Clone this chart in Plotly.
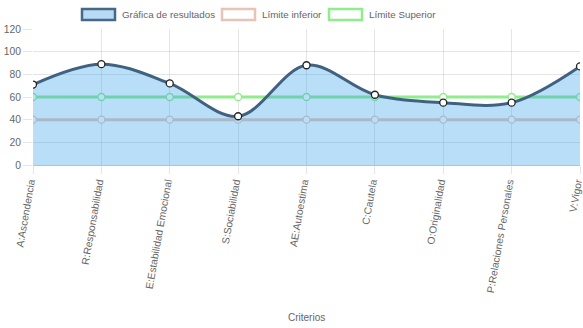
import plotly.graph_objects as go

# Category labels and series values
criterios = [
    "A:Ascendencia", "R:Responsabilidad", "E:Estabilidad Emocional",
    "S:Sociabilidad", "AE:Autoestima", "C:Cautela", "O:Originalidad",
    "P:Relaciones Personales", "V:Vigor",
]
resultados = [71, 89, 72, 43, 88, 62, 55, 55, 87]
limite_inferior = [40, 40, 40, 40, 40, 40, 40, 40, 40]
limite_superior = [60, 60, 60, 60, 60, 60, 60, 60, 60]

W, H = 583, 328
ML, MR, MT, MB = 33, 3, 29, 163
PW, PH = W - ML - MR, H - MT - MB

FONT = "Liberation Sans, Arial, Helvetica, sans-serif"
TXT = "#666666"

C_RES_LINE = "rgb(64,98,128)"
C_RES_FILL = "rgba(54,162,235,0.35)"
C_INF = "rgb(232,196,184)"
C_SUP = "rgb(144,236,140)"


def px_x(p):
    return (p - ML) / PW


def px_y(p):
    return (H - MB - p) / PH


fig = go.Figure()

# Limit lines on the base axes
fig.add_trace(go.Scatter(
    x=criterios, y=limite_inferior, mode="lines+markers",
    line=dict(color=C_INF, width=3),
    marker=dict(size=7, color="white", line=dict(color=C_INF, width=1.3)),
    name="Límite inferior", showlegend=False,
))
fig.add_trace(go.Scatter(
    x=criterios, y=limite_superior, mode="lines+markers",
    line=dict(color=C_SUP, width=3),
    marker=dict(size=7, color="white", line=dict(color=C_SUP, width=1.3)),
    name="Límite Superior", showlegend=False,
))
# Results on an overlaying y axis so the translucent fill covers the limits
fig.add_trace(go.Scatter(
    x=criterios, y=resultados, mode="lines+markers", yaxis="y2",
    line=dict(color=C_RES_LINE, width=3, shape="spline", smoothing=1.0),
    fill="tozeroy", fillcolor=C_RES_FILL,
    marker=dict(size=7, color="white", line=dict(color="#222222", width=1.3)),
    name="Gráfica de resultados", showlegend=False,
))

# Legend drawn as boxed swatches with text labels
legend_items = [
    ("Gráfica de resultados", 81, "rgb(70,105,135)", "rgb(185,218,245)"),
    ("Límite inferior", 221, C_INF, "white"),
    ("Límite Superior", 328, C_SUP, "white"),
]
shapes, annotations = [], []
for label, x0, border, fillc in legend_items:
    shapes.append(dict(
        type="rect", xref="paper", yref="paper",
        x0=px_x(x0 + 1), x1=px_x(x0 + 34), y0=px_y(20), y1=px_y(9),
        line=dict(color=border, width=2.5), fillcolor=fillc, layer="above",
    ))
    annotations.append(dict(
        text=label, xref="paper", yref="paper", x=px_x(x0 + 39), y=px_y(14.5),
        xanchor="left", yanchor="middle", showarrow=False,
        font=dict(family=FONT, size=9.8, color=TXT),
    ))

annotations.append(dict(
    text="Criterios", xref="paper", yref="paper", x=0.5, y=px_y(317),
    xanchor="center", yanchor="middle", showarrow=False,
    font=dict(family=FONT, size=10, color=TXT),
))

fig.update_layout(
    width=W, height=H,
    margin=dict(l=ML, r=MR, t=MT, b=MB, pad=0),
    paper_bgcolor="white", plot_bgcolor="white",
    showlegend=False,
    shapes=shapes, annotations=annotations,
    font=dict(family=FONT, size=10, color=TXT),
    yaxis2=dict(overlaying="y", range=[0, 120], visible=False,
                showgrid=False, zeroline=False, automargin=False),
)
fig.update_xaxes(
    type="category", range=[0, len(criterios) - 1], automargin=False,
    showgrid=True, gridcolor="rgba(0,0,0,0.1)", gridwidth=1,
    ticks="outside", ticklen=8, tickcolor="rgba(0,0,0,0.1)",
    tickangle=-80, tickfont=dict(family=FONT, size=10.3, color=TXT),
    ticklabelshift=-3, ticklabelstandoff=-2,
    zeroline=False, showline=False,
)
fig.update_yaxes(
    selector=dict(overlaying=None),
    range=[0, 120], dtick=20, tick0=0, automargin=False,
    showgrid=True, gridcolor="rgba(0,0,0,0.1)", gridwidth=1,
    ticks="outside", ticklen=9, tickcolor="rgba(0,0,0,0.1)",
    tickfont=dict(family=FONT, size=10.3, color=TXT),
    zeroline=True, zerolinecolor="rgba(0,0,0,0.25)", zerolinewidth=1,
    showline=False,
)

fig.write_html("out.html")
